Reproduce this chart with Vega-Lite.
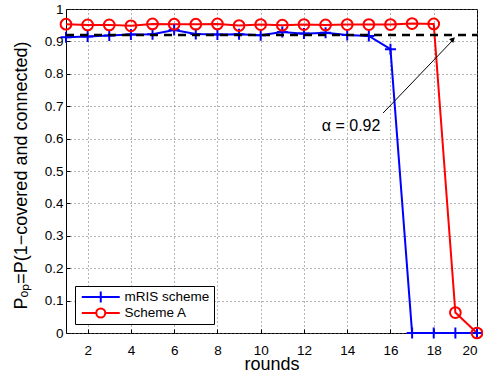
{
  "$schema": "https://vega.github.io/schema/vega-lite/v6.json",
  "width": 411,
  "height": 324,
  "autosize": "none",
  "padding": {"left": 66, "top": 9, "right": 6, "bottom": 40},
  "background": "white",
  "config": {
    "font": "Liberation Sans",
    "view": {"stroke": "black", "strokeWidth": 1},
    "axis": {
      "labelFontSize": 13.5,
      "labelColor": "black",
      "labelOverlap": false,
      "titleColor": "black",
      "titleFontWeight": "normal",
      "titleFontSize": 18,
      "grid": true,
      "gridDash": [1, 3],
      "gridColor": "#666666",
      "gridWidth": 1,
      "domain": false,
      "tickColor": "black",
      "tickSize": -4
    },
    "legend": {
      "orient": "bottom-left",
      "offset": 9,
      "strokeColor": "black",
      "fillColor": "white",
      "padding": 4,
      "labelFontSize": 13.5,
      "labelColor": "black",
      "symbolSize": 100,
      "symbolStrokeWidth": 2,
      "symbolFillColor": "transparent",
      "symbolOffset": 15,
      "labelOffset": 17,
      "rowPadding": 2,
      "clipHeight": 14
    }
  },
  "datasets": {
    "series": [
      {"round": 1, "value": 0.913, "series": "mRIS scheme"},
      {"round": 2, "value": 0.915, "series": "mRIS scheme"},
      {"round": 3, "value": 0.918, "series": "mRIS scheme"},
      {"round": 4, "value": 0.921, "series": "mRIS scheme"},
      {"round": 5, "value": 0.922, "series": "mRIS scheme"},
      {"round": 6, "value": 0.935, "series": "mRIS scheme"},
      {"round": 7, "value": 0.923, "series": "mRIS scheme"},
      {"round": 8, "value": 0.921, "series": "mRIS scheme"},
      {"round": 9, "value": 0.922, "series": "mRIS scheme"},
      {"round": 10, "value": 0.919, "series": "mRIS scheme"},
      {"round": 11, "value": 0.929, "series": "mRIS scheme"},
      {"round": 12, "value": 0.924, "series": "mRIS scheme"},
      {"round": 13, "value": 0.927, "series": "mRIS scheme"},
      {"round": 14, "value": 0.920, "series": "mRIS scheme"},
      {"round": 15, "value": 0.917, "series": "mRIS scheme"},
      {"round": 16, "value": 0.876, "series": "mRIS scheme"},
      {"round": 17, "value": 0, "series": "mRIS scheme"},
      {"round": 18, "value": 0, "series": "mRIS scheme"},
      {"round": 19, "value": 0, "series": "mRIS scheme"},
      {"round": 20, "value": 0, "series": "mRIS scheme"},
      {"round": 1, "value": 0.953, "series": "Scheme A"},
      {"round": 2, "value": 0.951, "series": "Scheme A"},
      {"round": 3, "value": 0.951, "series": "Scheme A"},
      {"round": 4, "value": 0.948, "series": "Scheme A"},
      {"round": 5, "value": 0.954, "series": "Scheme A"},
      {"round": 6, "value": 0.953, "series": "Scheme A"},
      {"round": 7, "value": 0.953, "series": "Scheme A"},
      {"round": 8, "value": 0.954, "series": "Scheme A"},
      {"round": 9, "value": 0.949, "series": "Scheme A"},
      {"round": 10, "value": 0.952, "series": "Scheme A"},
      {"round": 11, "value": 0.950, "series": "Scheme A"},
      {"round": 12, "value": 0.952, "series": "Scheme A"},
      {"round": 13, "value": 0.951, "series": "Scheme A"},
      {"round": 14, "value": 0.952, "series": "Scheme A"},
      {"round": 15, "value": 0.952, "series": "Scheme A"},
      {"round": 16, "value": 0.952, "series": "Scheme A"},
      {"round": 17, "value": 0.955, "series": "Scheme A"},
      {"round": 18, "value": 0.954, "series": "Scheme A"},
      {"round": 19, "value": 0.063, "series": "Scheme A"},
      {"round": 20, "value": 0, "series": "Scheme A"}
    ]
  },
  "encoding": {
    "x": {
      "field": "round", "type": "quantitative",
      "scale": {"domain": [1, 20], "nice": false, "zero": false},
      "axis": {"values": [2, 4, 6, 8, 10, 12, 14, 16, 18, 20], "tickCount": 20, "labelPadding": 14, "title": "rounds", "titleBaseline": "alphabetic", "titleY": 36}
    },
    "y": {
      "field": "value", "type": "quantitative",
      "scale": {"domain": [0, 1], "nice": false},
      "axis": {
        "values": [0, 0.1, 0.2, 0.3, 0.4, 0.5, 0.6, 0.7, 0.8, 0.9, 1],
        "tickCount": 20,
        "format": ".1~f",
        "labelPadding": 7,
        "title": "Pₒₚ=P(1−covered and connected)",
        "titleX": -45, "titleY": 166, "titleBaseline": "middle", "titleAlign": "center", "titleAngle": -90
      }
    }
  },
  "layer": [
    {
      "data": {"name": "series"},
      "mark": {"type": "line", "strokeWidth": 2},
      "encoding": {
        "color": {
          "field": "series", "type": "nominal",
          "scale": {"domain": ["mRIS scheme", "Scheme A"], "range": ["#0000ff", "#ff0000"]},
          "legend": {
            "title": null,
            "labelExpr": "datum.value === 'Scheme A' ? '\u00a0\u00a0Scheme A' : datum.label"
          }
        }
      }
    },
    {
      "data": {"name": "series"},
      "transform": [{"filter": "datum.series === 'mRIS scheme'"}],
      "mark": {"type": "point", "shape": "M-1,0H1M0,-1V1", "size": 121, "filled": false, "strokeWidth": 2, "opacity": 1, "color": "#0000ff"},
      "encoding": {}
    },
    {
      "data": {"name": "series"},
      "transform": [{"filter": "datum.series === 'Scheme A'"}],
      "mark": {"type": "point", "shape": "circle", "size": 115, "filled": false, "strokeWidth": 2, "opacity": 1, "color": "#ff0000"},
      "encoding": {}
    },
    {
      "data": {"name": "series"},
      "transform": [{"filter": "datum.round > 100"}],
      "mark": {"type": "point", "filled": false, "strokeWidth": 2, "opacity": 1},
      "encoding": {
        "color": {"field": "series", "type": "nominal"},
        "shape": {
          "field": "series", "type": "nominal",
          "scale": {
            "domain": ["mRIS scheme", "Scheme A"],
            "range": ["M-3.8,0H3.8M0,-1.1V1.1", "M-3.8,0H-0.9M0.9,0H3.8M-0.9,0A0.9,0.9 0 1,1 0.9,0A0.9,0.9 0 1,1 -0.9,0"]
          },
          "legend": {
            "title": null,
            "labelExpr": "datum.value === 'Scheme A' ? '\u00a0\u00a0Scheme A' : datum.label"
          }
        }
      }
    },
    {
      "data": {"values": [{"round": 1, "value": 0.92}, {"round": 20, "value": 0.92}]},
      "mark": {"type": "line", "color": "black", "strokeWidth": 2.5, "strokeDash": [8, 6]},
      "encoding": {}
    },
    {
      "data": {"values": [{"round": 15.66, "value": 0.679, "round2": 18.93, "value2": 0.907}]},
      "mark": {"type": "rule", "color": "black", "strokeWidth": 1},
      "encoding": {
        "x2": {"field": "round2"},
        "y2": {"field": "value2"}
      }
    },
    {
      "data": {"values": [{"round": 18.89, "value": 0.907}]},
      "mark": {"type": "point", "shape": "triangle-up", "filled": true, "color": "black", "size": 36, "angle": 44, "opacity": 1},
      "encoding": {}
    },
    {
      "data": {"values": [{"round": 14.18, "value": 0.639, "label": "α = 0.92"}]},
      "mark": {"type": "text", "fontSize": 16, "color": "black", "align": "center", "baseline": "middle"},
      "encoding": {
        "text": {"field": "label"}
      }
    }
  ]
}
